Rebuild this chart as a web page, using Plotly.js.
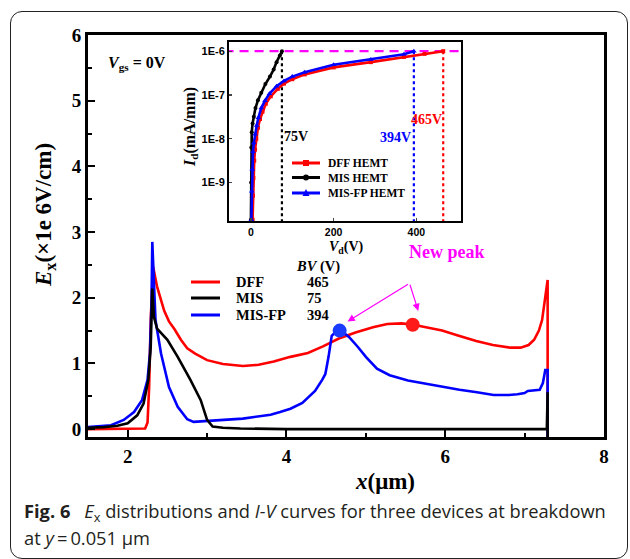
<!DOCTYPE html>
<html>
<head>
<meta charset="utf-8">
<script src="https://cdn.plot.ly/plotly-3.0.1.min.js"></script>
<style>
  html, body { margin:0; padding:0; background:#fff; }
  #wrap { position:relative; width:630px; height:559px; overflow:hidden; }
  #frame { position:absolute; left:10px; top:11px; width:616px; height:546px; border:1.3px solid #222; border-radius:12px; }
  #chart { position:absolute; left:0; top:0; width:630px; height:559px; }
</style>
</head>
<body>
<div id="wrap"><div id="frame"></div><div id="chart"></div></div>
<script>
// ---------- Main chart data: Ex (x1e6 V/cm) vs x (um) ----------
const dffX = [1.5, 1.8, 2.1, 2.22, 2.25, 2.27, 2.29, 2.32, 2.37, 2.42, 2.46, 2.52, 2.59, 2.67, 2.75, 2.85, 3.0, 3.2, 3.45, 3.65, 3.84, 4.05, 4.27, 4.46, 4.66, 4.87, 5.09, 5.27, 5.45, 5.6, 5.78, 5.96, 6.15, 6.39, 6.6, 6.82, 6.95, 7.05, 7.12, 7.18, 7.22, 7.26, 7.29, 7.29];
const dffY = [0.0, 0.0, 0.0, 0.01, 0.1, 0.64, 1.66, 2.47, 2.17, 1.95, 1.8, 1.64, 1.52, 1.36, 1.23, 1.15, 1.05, 0.99, 0.96, 0.98, 1.03, 1.1, 1.16, 1.26, 1.38, 1.47, 1.55, 1.6, 1.61, 1.59, 1.55, 1.5, 1.43, 1.34, 1.28, 1.24, 1.24, 1.28, 1.36, 1.5, 1.66, 2.01, 2.27, -0.12];

const fpX = [1.5, 1.65, 1.79, 1.95, 2.08, 2.18, 2.25, 2.28, 2.3, 2.31, 2.33, 2.35, 2.42, 2.52, 2.63, 2.75, 2.83, 3.0, 3.21, 3.45, 3.63, 3.8, 3.92, 4.05, 4.2, 4.36, 4.45, 4.49, 4.53, 4.57, 4.62, 4.67, 4.72, 4.79, 4.9, 5.0, 5.14, 5.3, 5.53, 5.8, 6.18, 6.4, 6.61, 6.8, 6.91, 7.0, 7.04, 7.19, 7.23, 7.26, 7.29, 7.29];
const fpY = [0.03, 0.04, 0.06, 0.14, 0.26, 0.44, 0.75, 1.15, 1.92, 2.85, 2.2, 1.66, 1.15, 0.64, 0.34, 0.15, 0.11, 0.12, 0.14, 0.16, 0.19, 0.22, 0.26, 0.31, 0.4, 0.58, 0.75, 0.84, 1.1, 1.42, 1.48, 1.5, 1.47, 1.4, 1.25, 1.1, 0.92, 0.82, 0.74, 0.68, 0.6, 0.56, 0.52, 0.52, 0.53, 0.55, 0.58, 0.6, 0.7, 0.9, 0.9, -0.12];

const misX = [1.5, 1.7, 1.87, 2.0, 2.12, 2.2, 2.26, 2.29, 2.31, 2.33, 2.37, 2.43, 2.5, 2.63, 2.79, 2.92, 3.0, 3.07, 3.2, 3.42, 4.0, 5.0, 6.0, 7.0, 7.28, 7.29, 7.29];
const misY = [0.02, 0.03, 0.05, 0.09, 0.21, 0.39, 0.75, 1.25, 2.14, 1.71, 1.53, 1.45, 1.36, 1.1, 0.75, 0.44, 0.14, 0.04, 0.02, 0.01, 0.0, 0.0, 0.0, 0.0, 0.0, 0.56, -0.12];

// peak markers
const peakFpX = [4.67], peakFpY = [1.50];
const peakDffX = [5.59], peakDffY = [1.59];

// legend table
const devNames = ["DFF", "MIS", "MIS-FP"];
const bvValues = [465, 75, 394];
const devColors = ["#ff0000", "#000000", "#0000ff"];

// ---------- Inset data: Id (mA/mm) vs Vd (V) ----------
const ivNames = ["DFF HEMT", "MIS HEMT", "MIS-FP HEMT"];
const ivDffV = [4, 5, 6, 8, 10, 13, 17, 22, 28, 36, 48, 65, 80, 100, 130, 200, 290, 370, 420, 465];
const ivDffLog = [-9.85, -9.3, -8.9, -8.5, -8.25, -8.0, -7.75, -7.55, -7.38, -7.2, -7.03, -6.86, -6.74, -6.64, -6.53, -6.37, -6.25, -6.13, -6.06, -6.0];
const ivMisV = [0, 0.5, 1, 2, 4, 7, 11, 17, 25, 35, 46, 55, 62, 70, 75];
const ivMisLog = [-9.85, -9.0, -8.2, -7.85, -7.65, -7.5, -7.3, -7.12, -6.95, -6.75, -6.58, -6.42, -6.25, -6.1, -6.0];
const ivFpV = [1, 2, 3, 5, 7, 10, 14, 18, 25, 34, 45, 62, 80, 100, 130, 200, 290, 370, 394];
const ivFpLog = [-9.85, -9.2, -8.7, -8.3, -8.1, -7.9, -7.7, -7.52, -7.3, -7.13, -6.97, -6.8, -6.68, -6.58, -6.48, -6.31, -6.19, -6.07, -6.0];
const ivLimit = 1e-6;

const pow10 = a => a.map(v => Math.pow(10, v));

// pixel -> paper helpers (plot area: x 88..604, y 35..437)
const PX = x => (x - 88) / 516;
const PY = y => (437 - y) / 402;

const SERIF = "Liberation Serif, Times New Roman, serif";
const SANS = "Liberation Sans, Arial, sans-serif";

const traces = [
  {x: dffX, y: dffY, type: 'scatter', mode: 'lines', line: {color: devColors[0], width: 2.6}, xaxis: 'x', yaxis: 'y'},
  {x: fpX, y: fpY, type: 'scatter', mode: 'lines', line: {color: devColors[2], width: 2.6}, xaxis: 'x', yaxis: 'y'},
  {x: misX, y: misY, type: 'scatter', mode: 'lines', line: {color: devColors[1], width: 2.6}, xaxis: 'x', yaxis: 'y'},
  {x: peakFpX, y: peakFpY, type: 'scatter', mode: 'markers', marker: {color: '#1a3cff', size: 14}},
  {x: peakDffX, y: peakDffY, type: 'scatter', mode: 'markers', marker: {color: '#ff1a1a', size: 14}},
  // inset: limit line and BV lines
  {x: [-100, 600], y: [ivLimit, ivLimit], type: 'scatter', mode: 'lines', line: {color: '#ff00ff', width: 2.2, dash: '9px,6px'}, xaxis: 'x2', yaxis: 'y2'},
  {x: [bvValues[1], bvValues[1]], y: [ivLimit, 1e-11], type: 'scatter', mode: 'lines', line: {color: devColors[1], width: 2.2, dash: 'dot'}, xaxis: 'x2', yaxis: 'y2'},
  {x: [bvValues[2], bvValues[2]], y: [ivLimit, 1e-11], type: 'scatter', mode: 'lines', line: {color: devColors[2], width: 2.2, dash: 'dot'}, xaxis: 'x2', yaxis: 'y2'},
  {x: [bvValues[0], bvValues[0]], y: [ivLimit, 1e-11], type: 'scatter', mode: 'lines', line: {color: devColors[0], width: 2.2, dash: 'dot'}, xaxis: 'x2', yaxis: 'y2'},
  // inset curves
  {x: ivDffV, y: pow10(ivDffLog), name: ivNames[0], type: 'scatter', mode: 'lines+markers', line: {color: devColors[0], width: 2.6}, marker: {symbol: 'square', size: 4, color: devColors[0]}, xaxis: 'x2', yaxis: 'y2'},
  {x: ivMisV, y: pow10(ivMisLog), name: ivNames[1], type: 'scatter', mode: 'lines+markers', line: {color: devColors[1], width: 2.6}, marker: {symbol: 'circle', size: 4, color: devColors[1]}, xaxis: 'x2', yaxis: 'y2'},
  {x: ivFpV, y: pow10(ivFpLog), name: ivNames[2], type: 'scatter', mode: 'lines+markers', line: {color: devColors[2], width: 2.6}, marker: {symbol: 'triangle-up', size: 5, color: devColors[2]}, xaxis: 'x2', yaxis: 'y2'}
];
traces.forEach(t => t.showlegend = false);

const annotations = [];
const shapes = [];
const T = (x, y, text, size, color, opts) => Object.assign({xref: 'paper', yref: 'paper', x: PX(x), y: PY(y), xanchor: 'left', yanchor: 'middle', showarrow: false,
  text: text, font: {family: SERIF, size: size, color: color || '#000'}}, opts || {});

// main legend table
annotations.push(T(294, 266, '<b><i>BV</i> (V)</b>', 14.5));
const legYs = [282, 298, 315];
devNames.forEach((n, i) => {
  shapes.push({type: 'line', xref: 'paper', yref: 'paper', x0: PX(191), x1: PX(220), y0: PY(legYs[i]), y1: PY(legYs[i]), line: {color: devColors[i], width: 3}});
  annotations.push(T(234, legYs[i], '<b>' + n + '</b>', 14.5));
  annotations.push(T(305, legYs[i], '<b>' + bvValues[i] + '</b>', 14.5));
});

// inset legend (line + symbol samples)
const ilYs = [163, 177.5, 193];
ivNames.forEach((n, i) => {
  const c = devColors[i], y = ilYs[i];
  shapes.push({type: 'line', xref: 'paper', yref: 'paper', x0: PX(292), x1: PX(320), y0: PY(y), y1: PY(y), line: {color: c, width: 3}});
  if (i === 0) {
    shapes.push({type: 'rect', xref: 'paper', yref: 'paper', x0: PX(303), x1: PX(309), y0: PY(y + 3), y1: PY(y - 3), fillcolor: c, line: {width: 0}});
  } else if (i === 1) {
    shapes.push({type: 'circle', xref: 'paper', yref: 'paper', x0: PX(303), x1: PX(309), y0: PY(y + 3), y1: PY(y - 3), fillcolor: c, line: {width: 0}});
  } else {
    shapes.push({type: 'path', xref: 'paper', yref: 'paper', path: `M ${PX(302.5)} ${PY(y + 3)} L ${PX(309.5)} ${PY(y + 3)} L ${PX(306)} ${PY(y - 4)} Z`, fillcolor: c, line: {width: 0}});
  }
  annotations.push(T(326, y, '<b>' + n + '</b>', 11.5));
});

// Vgs label
annotations.push(T(106, 63, '<b><i>V</i><sub>gs</sub> = 0V</b>', 16));

// New peak + arrows
annotations.push(T(447, 252, '<b>New peak</b>', 18, '#ff00ff', {xanchor: 'center'}));
annotations.push({x: 4.77, y: 1.64, xref: 'x', yref: 'y', ax: 5.55, ay: 2.22, axref: 'x', ayref: 'y', showarrow: true, arrowhead: 2, arrowsize: 1.2, arrowwidth: 1.2, arrowcolor: '#ff00ff', text: ''});
annotations.push({x: 5.66, y: 1.80, xref: 'x', yref: 'y', ax: 5.55, ay: 2.22, axref: 'x', ayref: 'y', showarrow: true, arrowhead: 2, arrowsize: 1.2, arrowwidth: 1.2, arrowcolor: '#ff00ff', text: ''});

// main axis titles
annotations.push(T(45, 215, '<b><i>E</i><sub>x</sub>(×1e 6V/cm)</b>', 23, '#000', {xanchor: 'center', textangle: -90}));
annotations.push(T(385, 481, '<b><i>x</i>(μm)</b>', 23, '#000', {xanchor: 'center'}));

// inset axis titles
annotations.push(T(191, 127, '<b><i>I</i><sub>d</sub>(mA/mm)</b>', 16, '#000', {xanchor: 'center', textangle: -90}));
annotations.push(T(346, 247, '<b><i>V</i><sub>d</sub>(V)</b>', 14, '#000', {xanchor: 'center', borderpad: 0}));

// BV labels in inset
annotations.push(T(296, 136, '<b>' + bvValues[1] + 'V</b>', 14, devColors[1], {xanchor: 'center'}));
annotations.push(T(395, 137, '<b>' + bvValues[2] + 'V</b>', 14, devColors[2], {xanchor: 'center'}));
annotations.push(T(426, 120, '<b>' + bvValues[0] + 'V</b>', 14, devColors[0], {xanchor: 'center'}));

// caption
const CAP = "Open Sans, Noto Sans, sans-serif";
annotations.push(T(22, 512, '<b>Fig. 6</b>\u2002 <i>E</i><sub>x</sub> distributions and <i>I-V</i> curves for three devices at breakdown', 18.3, '#231f20', {font: {family: CAP, size: 18.3, color: '#231f20'}}));
annotations.push(T(22, 537, 'at <i>y</i>\u2009=\u20090.051 μm', 18.3, '#231f20', {font: {family: CAP, size: 18.3, color: '#231f20'}}));

const layout = {
  width: 630, height: 559,
  margin: {l: 88, r: 26, t: 35, b: 122},
  paper_bgcolor: 'rgba(0,0,0,0)', plot_bgcolor: 'rgba(0,0,0,0)',
  font: {family: SERIF, color: '#000'},
  showlegend: false,
  xaxis: {range: [1.5, 8], tickvals: [2, 4, 6, 8], ticks: 'inside', ticklen: 7, tickwidth: 2, tickcolor: '#000',
    showline: true, linewidth: 3, linecolor: '#000', mirror: true, showgrid: false, zeroline: false,
    tickfont: {family: SERIF, size: 19, weight: 'bold'},
    minor: {tickvals: [3, 5, 7], ticks: 'inside', ticklen: 4, tickwidth: 2, tickcolor: '#000'}},
  yaxis: {range: [-0.12, 6], tickvals: [0, 1, 2, 3, 4, 5, 6], ticks: 'inside', ticklen: 7, tickwidth: 2, tickcolor: '#000',
    showline: true, linewidth: 3, linecolor: '#000', mirror: true, showgrid: false, zeroline: false,
    tickfont: {family: SERIF, size: 19, weight: 'bold'},
    minor: {tickvals: [0.5, 1.5, 2.5, 3.5, 4.5, 5.5], ticks: 'inside', ticklen: 4, tickwidth: 2, tickcolor: '#000'}},
  xaxis2: {domain: [PX(229), PX(461)], anchor: 'y2', range: [-53, 508], tickvals: [0, 200, 400], ticks: 'inside', ticklen: 3, tickwidth: 1.2,
    showline: true, linewidth: 2, linecolor: '#000', mirror: true, showgrid: false, zeroline: false,
    tickfont: {family: SANS, size: 10.5, weight: 'bold'}},
  yaxis2: {domain: [PY(221), PY(42)], anchor: 'x2', type: 'log', range: [-9.88, -5.79],
    tickvals: [1e-9, 1e-8, 1e-7, 1e-6], ticktext: ['1E-9', '1E-8', '1E-7', '1E-6'], ticks: 'inside', ticklen: 3, tickwidth: 1.2,
    showline: true, linewidth: 2, linecolor: '#000', mirror: true, showgrid: false, zeroline: false,
    tickfont: {family: SANS, size: 11, weight: 'bold'}},
  annotations: annotations,
  shapes: shapes
};

Plotly.newPlot('chart', traces, layout, {displayModeBar: false, staticPlot: true});
</script>
</body>
</html>
